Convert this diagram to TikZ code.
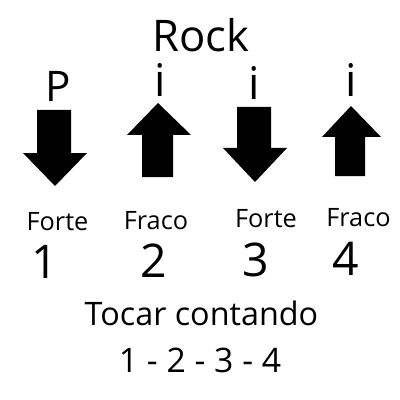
\documentclass[tikz,border=0pt]{standalone}
\usepackage{fontspec}
\setmainfont{Open Sans}
\begin{document}
\begin{tikzpicture}[x=0.025cm,y=-0.025cm,
  txt/.style={anchor=base,inner sep=0pt,text=black},
  arr/.style={fill=black,draw=none}]
\useasboundingbox[fill=white] (0,0) rectangle (400,400);
% title
\node[txt,font=\fontsize{31}{31}\selectfont] (rock) at (201,52) {Rock};
% finger letters
\node[txt,font=\fontsize{30}{30}\selectfont] (p) at (58,102) {P};
\node[txt,font=\fontsize{32}{32}\selectfont] (i1) at (160,97) {i};
\node[txt,font=\fontsize{32}{32}\selectfont] (i2) at (254,100) {i};
\node[txt,font=\fontsize{32}{32}\selectfont] (i3) at (351,97) {i};
% arrows
\fill[arr] (37,110) -- (71,110) -- (71,153) -- (87,153) -- (55,186) -- (23,153) -- (37,153) -- cycle;
\fill[arr] (158,103) -- (191,135) -- (173,135) -- (173,177) -- (142,177) -- (142,135) -- (127,135) -- cycle;
\fill[arr] (237,107) -- (271,107) -- (271,148) -- (287,148) -- (255,182) -- (223,148) -- (237,148) -- cycle;
\fill[arr] (351,106) -- (381,137) -- (365,137) -- (365,176) -- (335,176) -- (335,137) -- (322,137) -- cycle;
% labels
\node[txt,font=\fontsize{18}{18}\selectfont] (f1) at (57.5,230) {Forte};
\node[txt,font=\fontsize{18}{18}\selectfont] (w1) at (156,229) {Fraco};
\node[txt,font=\fontsize{18}{18}\selectfont] (f2) at (266,227) {Forte};
\node[txt,font=\fontsize{18}{18}\selectfont] (w2) at (358.5,226) {Fraco};
\node[txt,font=\fontsize{33}{33}\selectfont] (n1) at (45,278) {1};
\node[txt,font=\fontsize{33}{33}\selectfont] (n2) at (154,277) {2};
\node[txt,font=\fontsize{33}{33}\selectfont] (n3) at (256,276) {3};
\node[txt,font=\fontsize{33}{33}\selectfont] (n4) at (346,275) {4};
\node[txt,font=\fontsize{23}{23}\selectfont] (tc) at (201.5,325) {Tocar contando};
\node[txt,font=\fontsize{24}{24}\selectfont] (seq) at (200,372) {1 - 2 - 3 - 4};
\end{tikzpicture}
\end{document}
